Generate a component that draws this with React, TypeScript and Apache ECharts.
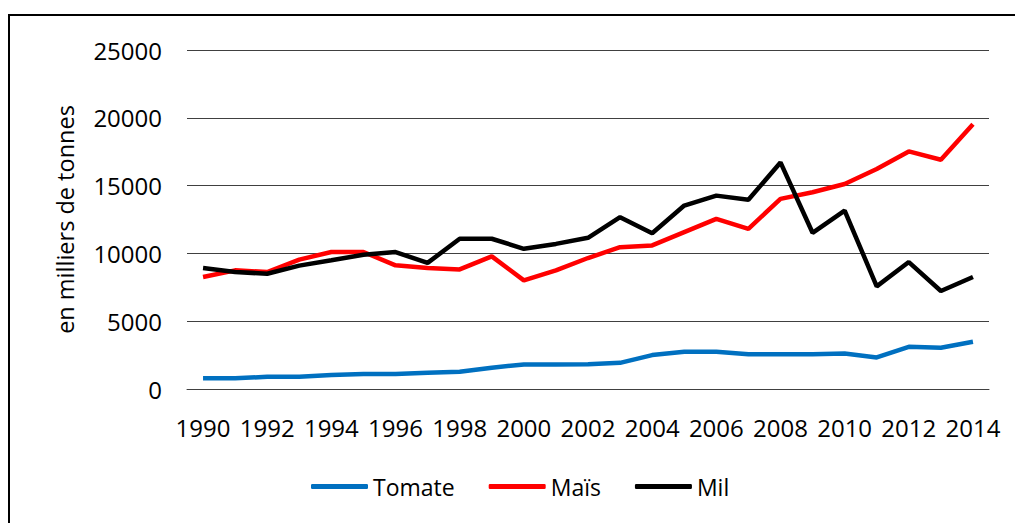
import React, { useEffect, useRef } from "react";
import * as echarts from "echarts";

const years = ["1990","1991","1992","1993","1994","1995","1996","1997","1998","1999","2000","2001","2002","2003","2004","2005","2006","2007","2008","2009","2010","2011","2012","2013","2014"];
const tomate = [790, 790, 900, 900, 1030, 1100, 1100, 1200, 1270, 1570, 1810, 1810, 1830, 1930, 2500, 2740, 2740, 2570, 2570, 2570, 2620, 2330, 3110, 3040, 3480];
const mais = [8260, 8750, 8630, 9540, 10100, 10100, 9120, 8920, 8820, 9780, 8010, 8750, 9660, 10460, 10590, 11570, 12550, 11810, 14020, 14510, 15120, 16230, 17520, 16910, 19530];
const mil = [8920, 8630, 8500, 9100, 9490, 9900, 10100, 9300, 11080, 11080, 10340, 10700, 11150, 12670, 11490, 13530, 14260, 13950, 16710, 11520, 13160, 7570, 9360, 7230, 8260];
const seriesNames = ["Tomate", "Maïs", "Mil"];
const colors = ["#0070C0", "#FF0000", "#000000"];

const FONT = "Open Sans";

export default function App() {
  const ref = useRef<HTMLDivElement>(null);
  useEffect(() => {
    if (!ref.current) return;
    const chart = echarts.init(ref.current, null, { renderer: "svg" });
    const data = [tomate, mais, mil];
    chart.setOption({
      animation: false,
      backgroundColor: "#fff",
      grid: { left: 187, right: 26, top: 50, bottom: 134, containLabel: false },
      xAxis: {
        type: "category",
        data: years,
        boundaryGap: true,
        axisLine: { show: true, lineStyle: { color: "#404040", width: 1 } },
        axisTick: { show: false },
        axisLabel: {
          interval: 1,
          margin: 26,
          color: "#000",
          fontFamily: FONT,
          fontSize: 24,
        },
      },
      yAxis: {
        type: "value",
        min: 0,
        max: 25000,
        interval: 5000,
        name: "en milliers de tonnes",
        nameLocation: "middle",
        nameGap: 110,
        nameTextStyle: { color: "#000", fontFamily: FONT, fontSize: 23.5 },
        axisLine: { show: false },
        axisTick: { show: false },
        axisLabel: {
          margin: 25,
          color: "#000",
          fontFamily: FONT,
          fontSize: 24,
          formatter: (v: number) => String(v),
        },
        splitLine: { show: true, lineStyle: { color: "#404040", width: 1 } },
      },
      legend: {
        left: 306,
        top: 470,
        itemWidth: 57,
        itemHeight: 5,
        itemGap: 34,
        icon: "roundRect",
        textStyle: { color: "#000", fontFamily: FONT, fontSize: 23 },
        data: seriesNames,
      },
      graphic: [
        {
          type: "rect",
          shape: { x: 9, y: 15, width: 1200, height: 700 },
          style: { fill: "none", stroke: "#000", lineWidth: 2 },
          silent: true,
        },
      ],
      series: seriesNames.map((name, i) => ({
        name,
        type: "line",
        data: data[i],
        symbol: "none",
        smooth: false,
        lineStyle: { color: colors[i], width: 4.5 },
        itemStyle: { color: colors[i] },
        z: i === 2 ? 4 : 3,
      })),
    });
    return () => chart.dispose();
  }, []);
  return (
    <div
      ref={ref}
      style={{ position: "fixed", left: 0, top: 0, width: 1015, height: 523 }}
    />
  );
}
